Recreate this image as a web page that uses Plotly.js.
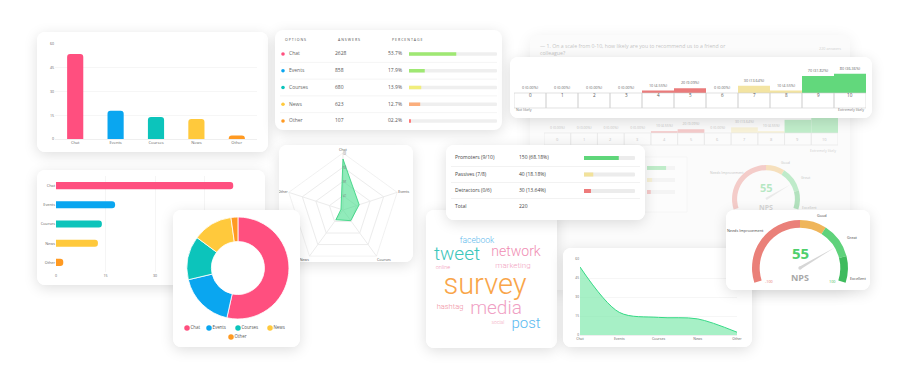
<!DOCTYPE html>
<html><head><meta charset="utf-8">
<script src="https://cdn.plot.ly/plotly-3.0.1.min.js"></script>
<style>
html,body{margin:0;padding:0;background:#fff;width:904px;height:375px;overflow:hidden;font-family:'Open Sans',sans-serif;}
.card{position:absolute;background:#fff;border-radius:8px;box-shadow:0 3px 14px rgba(0,0,0,0.13);overflow:hidden;}
.card > div{position:absolute;left:0;top:0;}
</style></head><body>
<div class="card" style="left:530px;top:35px;width:320px;height:255px;z-index:1;background:#fbfbfb;box-shadow:0 3px 16px rgba(0,0,0,0.08)"><div id="pBack" style="opacity:0.38"></div></div>
<div class="card" style="left:37px;top:32px;width:231px;height:120px;z-index:2"><div id="pVBar"></div></div>
<div class="card" style="left:275px;top:30px;width:227px;height:100px;z-index:2"><div id="pTable"></div></div>
<div class="card" style="left:510px;top:57px;width:362px;height:61px;z-index:5"><div id="pScale"></div></div>
<div class="card" style="left:37px;top:170px;width:228px;height:115px;z-index:3"><div id="pHBar"></div></div>
<div class="card" style="left:279px;top:145px;width:134px;height:117px;z-index:3"><div id="pRadar"></div></div>
<div class="card" style="left:173px;top:210px;width:127px;height:137px;z-index:6"><div id="pDonut"></div></div>
<div class="card" style="left:426px;top:210px;width:131px;height:138px;z-index:4"><div id="pCloud"></div></div>
<div class="card" style="left:446px;top:145px;width:199px;height:75px;z-index:6"><div id="pSummary"></div></div>
<div class="card" style="left:563px;top:248px;width:189px;height:99px;z-index:4"><div id="pArea"></div></div>
<div class="card" style="left:726px;top:210px;width:144px;height:80px;z-index:7"><div id="pGauge"></div></div>
<script>
// ---------------- DATA ----------------
const categories = ['Chat', 'Events', 'Courses', 'News', 'Other'];
const answers = [2628, 858, 680, 623, 107];
const percentages = [53.7, 17.9, 13.9, 12.7, 2.2];
const pctLabels = ['53.7%', '17.9%', '13.9%', '12.7%', '02.2%'];
const pctTicks = [0, 15, 30, 45, 60];

const scaleLabels = ['0', '1', '2', '3', '4', '5', '6', '7', '8', '9', '10'];
const scaleCounts = [0, 0, 0, 0, 10, 20, 0, 30, 10, 70, 80];
const npsGroups = ['Promoters (9/10)', 'Passives (7/8)', 'Detractors (0/6)'];
const npsGroupCounts = [150, 40, 30];
const npsGroupPct = [68.18, 18.18, 13.64];
const npsTotal = 220;
const npsScore = 55;
const gaugeBandEdges = [-100, 0, 30, 70, 100];
const gaugeBandNames = ['Needs Improvement', 'Good', 'Great', 'Excellent'];
const question = '— 1. On a scale from 0-10, how likely are you to recommend us to a friend or<br>colleague?';

const words = ['facebook', 'tweet', 'network', 'marketing', 'online', 'survey', 'hashtag', 'media', 'social', 'post'];
const wordWeights = [8.5, 19, 14, 8, 5.5, 29, 7.5, 19, 5, 15];

// ---------------- STYLE ----------------
const F = 'Open Sans, sans-serif';
const catColors = ['#ff4f7f', '#0aa6f0', '#0cc4bb', '#ffc93c', '#ff9a22'];
const tableBarColors = ['#9fe873', '#9fe873', '#f1ee7c', '#fbae7c', '#ff7575'];
const groupColors = ['#5fd67a', '#f2e29b', '#ee7b7b'];
const scaleColor = i => i <= 6 ? '#ea7b7b' : (i <= 8 ? '#f3e4a2' : '#62d87c');
const gaugeColors = ['#ea8079', '#efb55a', '#5fd27b', '#3fbb5d'];
const wordColors = ['#5bb8ec', '#3cc6bb', '#f08db3', '#f2a3c2', '#f29ab8', '#f9a549', '#f08c9e', '#f09fc4', '#f2a0b8', '#5ab9f0'];
const wordPos = [[51, 31], [31, 45], [90, 42], [87, 56], [17, 58], [59, 77], [24, 97], [70, 99], [72, 113], [100, 114]];
const cfg = {staticPlot: true, displayModeBar: false};

function pxLayout(w, h, extra) {
  return Object.assign({
    width: w, height: h, margin: {l: 0, r: 0, t: 0, b: 0, pad: 0},
    paper_bgcolor: 'rgba(0,0,0,0)', plot_bgcolor: 'rgba(0,0,0,0)', showlegend: false,
    font: {family: F, color: '#555'},
    xaxis: {range: [0, w], visible: false}, yaxis: {range: [h, 0], visible: false}
  }, extra || {});
}
function ann(x, y, text, size, color, anchor, extra) {
  return Object.assign({x: x, y: y, xref: 'x', yref: 'y', text: text, showarrow: false,
    xanchor: anchor || 'left', yanchor: 'middle', font: {size: size, color: color, family: F}}, extra || {});
}
function needlePath(cx, cy, len, half, value, vmin, vmax, sweep) {
  const th = ((value - vmin) / (vmax - vmin) * sweep - sweep / 2) * Math.PI / 180;
  const dx = Math.sin(th), dy = -Math.cos(th);
  const tx = cx + len * dx, ty = cy + len * dy;
  const px = -dy, py = dx;
  return `M ${cx + half * px} ${cy + half * py} L ${tx} ${ty} L ${cx - half * px} ${cy - half * py} Z`;
}
function gaugeTrace(domain, hole, sweep) {
  const widths = gaugeBandEdges.slice(1).map((e, i) => e - gaugeBandEdges[i]);
  const span = gaugeBandEdges[gaugeBandEdges.length - 1] - gaugeBandEdges[0];
  const gap = span * (360 - sweep) / sweep;
  return {type: 'pie', values: widths.concat([gap]), labels: gaugeBandNames.concat(['gap']),
    marker: {colors: gaugeColors.concat(['rgba(0,0,0,0)']), line: {width: 0}},
    sort: false, direction: 'clockwise', rotation: -sweep / 2, hole: hole,
    textinfo: 'none', hoverinfo: 'none', domain: domain, showlegend: false};
}
const scaleText = scaleCounts.map(c => `${c} (${(c / npsTotal * 100).toFixed(2)}%)`);
const gaugeSweep = 216;

// ---------------- BACK (faded) CARD ----------------
(function () {
  const W = 320, H = 255;
  const traces = [
    {type: 'bar', x: scaleLabels.map(Number), y: scaleCounts, xaxis: 'x2', yaxis: 'y2', width: 1,
     marker: {color: scaleLabels.map((_, i) => scaleColor(i))}, text: scaleText, textposition: 'outside',
     textfont: {size: 3.5, color: '#666'}, cliponaxis: false, hoverinfo: 'none'},
    {type: 'bar', orientation: 'h', y: [0, 1, 2], x: npsGroupPct.map(() => 100), xaxis: 'x3', yaxis: 'y3',
     width: 0.33, marker: {color: '#e9e9e9'}, hoverinfo: 'none'},
    {type: 'bar', orientation: 'h', y: [0, 1, 2], x: npsGroupPct, xaxis: 'x3', yaxis: 'y3',
     width: 0.33, marker: {color: groupColors}, hoverinfo: 'none'},
    gaugeTrace({x: [0.631, 0.844], y: [0.2235, 0.49]}, 0.85, gaugeSweep)
  ];
  const shapes = scaleLabels.map((_, i) => ({type: 'rect', xref: 'x2', yref: 'paper', x0: i - 0.5, x1: i + 0.5,
    y0: 0.5686, y1: 0.6157, line: {color: '#c8c8c8', width: 0.6}}));
  shapes.push({type: 'rect', xref: 'x', yref: 'y', x0: 60, x1: 157, y0: 122, y1: 177, line: {color: '#e6e6e6', width: 0.6}, fillcolor: '#ffffff', layer: 'below'});
  shapes.push({type: 'path', xref: 'x', yref: 'y', path: needlePath(236, 164, 28, 1.2, npsScore, -100, 100, gaugeSweep), fillcolor: '#cfcfcf', line: {width: 0}});
  const annotations = scaleLabels.map((s, i) => ({x: i, y: 0.592, xref: 'x2', yref: 'paper', text: s, showarrow: false, font: {size: 4, color: '#666', family: F}}));
  annotations.push(ann(8, 14, question, 5.2, '#666', 'left', {align: 'left'}));
  annotations.push(ann(313, 13, '220 answers', 3.8, '#888', 'right'));
  annotations.push(ann(308, 115, 'Extremely likely', 3.6, '#888', 'right'));
  annotations.push(ann(236, 152, String(npsScore), 11, '#49c96a', 'center', {font: {size: 11, color: '#49c96a', family: F, weight: 700}}));
  annotations.push(ann(236, 172, 'NPS', 7, '#999', 'center', {font: {size: 7, color: '#999', family: F, weight: 700}}));
  annotations.push(ann(197, 137, 'Needs Improvement', 3.5, '#666', 'center'));
  annotations.push(ann(255, 127, 'Good', 3.5, '#666', 'center'));
  annotations.push(ann(276, 142, 'Great', 3.5, '#666', 'center'));
  annotations.push(ann(279, 172, 'Excellent', 3.5, '#666', 'center'));
  Plotly.newPlot('pBack', traces, pxLayout(W, H, {
    barmode: 'overlay', shapes: shapes, annotations: annotations,
    xaxis2: {domain: [14 / W, 308 / W], range: [-0.5, 10.5], visible: false, anchor: 'y2'},
    yaxis2: {domain: [0.6157, 0.6745], range: [0, 80], visible: false, anchor: 'x2'},
    xaxis3: {domain: [0.3656, 0.4531], range: [0, 100], visible: false, anchor: 'y3'},
    yaxis3: {domain: [0.3608, 0.502], range: [2.5, -0.5], visible: false, anchor: 'x3'}
  }), cfg);
})();

// ---------------- VERTICAL BAR ----------------
Plotly.newPlot('pVBar', [{type: 'bar', x: categories, y: percentages, width: 0.4,
  marker: {color: catColors, cornerradius: 3}, hoverinfo: 'none'}], {
  width: 231, height: 120, margin: {l: 18, r: 11, t: 12, b: 13},
  paper_bgcolor: '#fff', plot_bgcolor: '#fff', showlegend: false, font: {family: F, size: 4, color: '#666'},
  xaxis: {showgrid: false, showline: true, linecolor: '#e4e4e4', linewidth: 0.6, ticks: '', tickfont: {size: 4}},
  yaxis: {range: [0, 60], tickvals: pctTicks, ticksuffix: '%', gridcolor: '#f0f0f0', gridwidth: 0.6, zeroline: false, ticks: '', tickfont: {size: 3.6}}
}, cfg);

// ---------------- OPTIONS TABLE ----------------
(function () {
  const W = 227, H = 100;
  const rowY = categories.map((_, i) => 24 + i * 16.75);
  const traces = [
    {type: 'scatter', mode: 'markers', x: rowY.map(() => 8), y: rowY, marker: {size: 3.6, color: catColors}, hoverinfo: 'none'},
    {type: 'scatter', mode: 'text', x: rowY.map(() => 14), y: rowY, text: categories, textposition: 'middle right', textfont: {size: 5, color: '#666'}, hoverinfo: 'none'},
    {type: 'scatter', mode: 'text', x: rowY.map(() => 60), y: rowY, text: answers.map(String), textposition: 'middle right', textfont: {size: 5, color: '#555'}, hoverinfo: 'none'},
    {type: 'scatter', mode: 'text', x: rowY.map(() => 113), y: rowY, text: pctLabels, textposition: 'middle right', textfont: {size: 5, color: '#555'}, hoverinfo: 'none'},
    {type: 'bar', orientation: 'h', y: rowY, x: rowY.map(() => 100), xaxis: 'x2', width: 3.4, marker: {color: '#efefef', cornerradius: 2}, hoverinfo: 'none'},
    {type: 'bar', orientation: 'h', y: rowY, x: percentages, xaxis: 'x2', width: 3.4, marker: {color: tableBarColors, cornerradius: 2}, hoverinfo: 'none'}
  ];
  const shapes = rowY.slice(0, -1).map(y => ({type: 'line', xref: 'x', yref: 'y', x0: 5, x1: 222, y0: y + 8.4, y1: y + 8.4, line: {color: '#ececec', width: 0.6}}));
  const annotations = [ann(8, 9, 'O P T I O N S', 3.6, '#555'), ann(61, 9, 'A N S W E R S', 3.6, '#555'), ann(115, 9, 'P E R C E N T A G E', 3.6, '#555')];
  Plotly.newPlot('pTable', traces, pxLayout(W, H, {barmode: 'overlay', shapes: shapes, annotations: annotations,
    xaxis2: {domain: [134 / W, 222 / W], range: [0, 100], visible: false, anchor: 'y'}}), cfg);
})();

// ---------------- NPS SCALE (front) ----------------
(function () {
  const W = 362, H = 61;
  const shapes = scaleLabels.map((_, i) => ({type: 'rect', xref: 'x', yref: 'paper', x0: i - 0.5, x1: i + 0.5,
    y0: 0.164, y1: 0.4098, line: {color: '#cfcfcf', width: 0.6}}));
  const annotations = scaleLabels.map((s, i) => ({x: i, y: 0.287, xref: 'x', yref: 'paper', text: s, showarrow: false, font: {size: 4.6, color: '#555', family: F}}));
  annotations.push({x: 4 / W, y: 0.066, xref: 'paper', yref: 'paper', text: 'Not likely', showarrow: false, xanchor: 'left', font: {size: 3.6, color: '#777', family: F}});
  annotations.push({x: 356 / W, y: 0.066, xref: 'paper', yref: 'paper', text: 'Extremely likely', showarrow: false, xanchor: 'right', font: {size: 3.6, color: '#777', family: F}});
  Plotly.newPlot('pScale', [{type: 'bar', x: scaleLabels.map(Number), y: scaleCounts, width: 1,
    marker: {color: scaleLabels.map((_, i) => scaleColor(i))}, text: scaleText, textposition: 'outside',
    textfont: {size: 3.8, color: '#666'}, cliponaxis: false, hoverinfo: 'none'}], {
    width: W, height: H, margin: {l: 0, r: 0, t: 0, b: 0}, paper_bgcolor: '#fff', plot_bgcolor: 'rgba(0,0,0,0)', showlegend: false,
    xaxis: {domain: [4 / W, 356 / W], range: [-0.5, 10.5], visible: false},
    yaxis: {domain: [0.4098, 0.7295], range: [0, 80], visible: false},
    shapes: shapes, annotations: annotations
  }, cfg);
})();

// ---------------- HORIZONTAL BAR ----------------
Plotly.newPlot('pHBar', [{type: 'bar', orientation: 'h', y: categories, x: percentages, width: 0.37,
  marker: {color: catColors, cornerradius: 3}, hoverinfo: 'none'}], {
  width: 228, height: 115, margin: {l: 19, r: 11, t: 6, b: 13},
  paper_bgcolor: '#fff', plot_bgcolor: '#fff', showlegend: false, font: {family: F, size: 4, color: '#666'},
  xaxis: {range: [0, 60], tickvals: pctTicks, ticksuffix: '%', gridcolor: '#efefef', gridwidth: 0.6, zeroline: false, ticks: '', tickfont: {size: 3.6}},
  yaxis: {autorange: 'reversed', showgrid: false, ticks: '', tickfont: {size: 3.8}}
}, cfg);

// ---------------- RADAR ----------------
Plotly.newPlot('pRadar', [{type: 'scatterpolar', r: percentages.concat([percentages[0]]), theta: categories.concat([categories[0]]),
  mode: 'lines', fill: 'toself', fillcolor: 'rgba(70,222,140,0.6)', line: {color: '#2fd17a', width: 0.8}, hoverinfo: 'none'}], {
  width: 134, height: 140, margin: {l: 0, r: 0, t: 0, b: 0}, paper_bgcolor: '#fff', showlegend: false, font: {family: F, size: 4, color: '#555'},
  polar: {domain: {x: [0.052, 0.903], y: [0.1286, 0.943]}, gridshape: 'linear', bgcolor: '#fff',
    angularaxis: {rotation: 90, direction: 'clockwise', linecolor: '#e8e8e8', linewidth: 0.6, gridcolor: '#ececec', ticks: '', tickfont: {size: 3.6, color: '#555'}},
    radialaxis: {range: [0, 60], tickvals: [15, 30, 45, 60], angle: 90, showline: false, gridcolor: '#ececec', ticks: '', tickfont: {size: 3, color: '#777'}, tickangle: 0}}
}, cfg);

// ---------------- DONUT ----------------
(function () {
  const W = 127, H = 137;
  const legendPos = [[14, 118], [36, 118], [65, 118], [97, 118], [58, 127]];
  Plotly.newPlot('pDonut', [
    {type: 'pie', labels: categories, values: percentages, sort: false, direction: 'clockwise', rotation: 0, hole: 0.52,
     marker: {colors: catColors, line: {color: '#fff', width: 0.8}}, textinfo: 'none', hoverinfo: 'none',
     domain: {x: [0.11, 0.913], y: [0.204, 0.949]}},
    {type: 'scatter', mode: 'markers', x: legendPos.map(p => p[0]), y: legendPos.map(p => p[1]), marker: {size: 5.5, color: catColors}, hoverinfo: 'none'},
    {type: 'scatter', mode: 'text', x: legendPos.map(p => p[0] + 3.5), y: legendPos.map(p => p[1]), text: categories, textposition: 'middle right', textfont: {size: 4.4, color: '#555'}, hoverinfo: 'none'}
  ], pxLayout(W, H, {paper_bgcolor: '#fff'}), cfg);
})();

// ---------------- WORD CLOUD ----------------
Plotly.newPlot('pCloud', [{type: 'scatter', mode: 'text', x: wordPos.map(p => p[0]), y: wordPos.map(p => p[1]), text: words,
  textfont: {size: wordWeights, color: wordColors, family: 'Roboto, sans-serif', weight: 300}, hoverinfo: 'none'}],
  pxLayout(131, 138, {paper_bgcolor: '#fff'}), cfg);

// ---------------- NPS SUMMARY ----------------
(function () {
  const W = 199, H = 75;
  const rowY = [13, 29.5, 46];
  const allY = rowY.concat([62]);
  const traces = [
    {type: 'scatter', mode: 'text', x: allY.map(() => 9), y: allY, text: npsGroups.concat(['Total']), textposition: 'middle right', textfont: {size: 5, color: '#444'}, hoverinfo: 'none'},
    {type: 'scatter', mode: 'text', x: allY.map(() => 73), y: allY, text: npsGroupCounts.map((c, i) => `${c} (${npsGroupPct[i].toFixed(2)}%)`).concat([String(npsTotal)]), textposition: 'middle right', textfont: {size: 5, color: '#444'}, hoverinfo: 'none'},
    {type: 'bar', orientation: 'h', y: rowY, x: rowY.map(() => 100), xaxis: 'x2', width: 4, marker: {color: '#ececec', cornerradius: 1}, hoverinfo: 'none'},
    {type: 'bar', orientation: 'h', y: rowY, x: npsGroupPct, xaxis: 'x2', width: 4, marker: {color: groupColors, cornerradius: 1}, hoverinfo: 'none'}
  ];
  const shapes = [21.5, 37.5, 53.5].map(y => ({type: 'line', xref: 'x', yref: 'y', x0: 5, x1: 194, y0: y, y1: y, line: {color: '#e9e9e9', width: 0.6}}));
  Plotly.newPlot('pSummary', traces, pxLayout(W, H, {barmode: 'overlay', shapes: shapes, paper_bgcolor: '#fff',
    xaxis2: {domain: [138 / W, 189 / W], range: [0, 100], visible: false, anchor: 'y'}}), cfg);
})();

// ---------------- AREA ----------------
Plotly.newPlot('pArea', [{type: 'scatter', mode: 'lines', x: categories, y: percentages, fill: 'tozeroy',
  fillcolor: 'rgba(120,232,168,0.65)', line: {color: '#35d985', width: 1, shape: 'spline', smoothing: 0.9}, hoverinfo: 'none'}], {
  width: 189, height: 99, margin: {l: 17, r: 15, t: 11, b: 12},
  paper_bgcolor: '#fff', plot_bgcolor: '#fff', showlegend: false, font: {family: F, size: 3.6, color: '#666'},
  xaxis: {type: 'category', range: [0, 4], showgrid: false, showline: true, linecolor: '#e4e4e4', linewidth: 0.6, ticks: '', tickfont: {size: 3.5}},
  yaxis: {range: [0, 60], tickvals: pctTicks, ticksuffix: '%', gridcolor: '#f0f0f0', gridwidth: 0.6, zeroline: false, ticks: '', tickfont: {size: 3.2}}
}, cfg);

// ---------------- GAUGE ----------------
(function () {
  const W = 144, H = 140;
  const shapes = [
    {type: 'path', xref: 'x', yref: 'y', path: needlePath(74, 58, 41, 1.4, npsScore, -100, 100, gaugeSweep), fillcolor: '#d6d6d6', line: {width: 0}},
    {type: 'circle', xref: 'x', yref: 'y', x0: 72.3, x1: 75.7, y0: 56.3, y1: 59.7, fillcolor: '#d6d6d6', line: {width: 0}}
  ];
  const annotations = [
    ann(74, 43, String(npsScore), 15, '#4fcf6c', 'center', {font: {size: 15, color: '#4fcf6c', family: F, weight: 700}}),
    ann(74, 67, 'NPS', 9, '#a8a8a8', 'center', {font: {size: 9, color: '#a8a8a8', family: F, weight: 700}}),
    ann(43, 71, String(gaugeBandEdges[0]), 3.8, '#e7776f', 'center'),
    ann(106, 71, String(gaugeBandEdges[gaugeBandEdges.length - 1]), 3.8, '#3fbb5d', 'center'),
    ann(19, 20, gaugeBandNames[0], 3.8, '#444', 'center'),
    ann(96, 5, gaugeBandNames[1], 3.8, '#444', 'center'),
    ann(126, 27, gaugeBandNames[2], 3.8, '#444', 'center'),
    ann(132, 68, gaugeBandNames[3], 3.8, '#444', 'center')
  ];
  Plotly.newPlot('pGauge', [gaugeTrace({x: [0.1806, 0.847], y: [0.243, 0.929]}, 0.84, gaugeSweep)],
    pxLayout(W, H, {paper_bgcolor: '#fff', shapes: shapes, annotations: annotations}), cfg);
})();
</script>
</body></html>
